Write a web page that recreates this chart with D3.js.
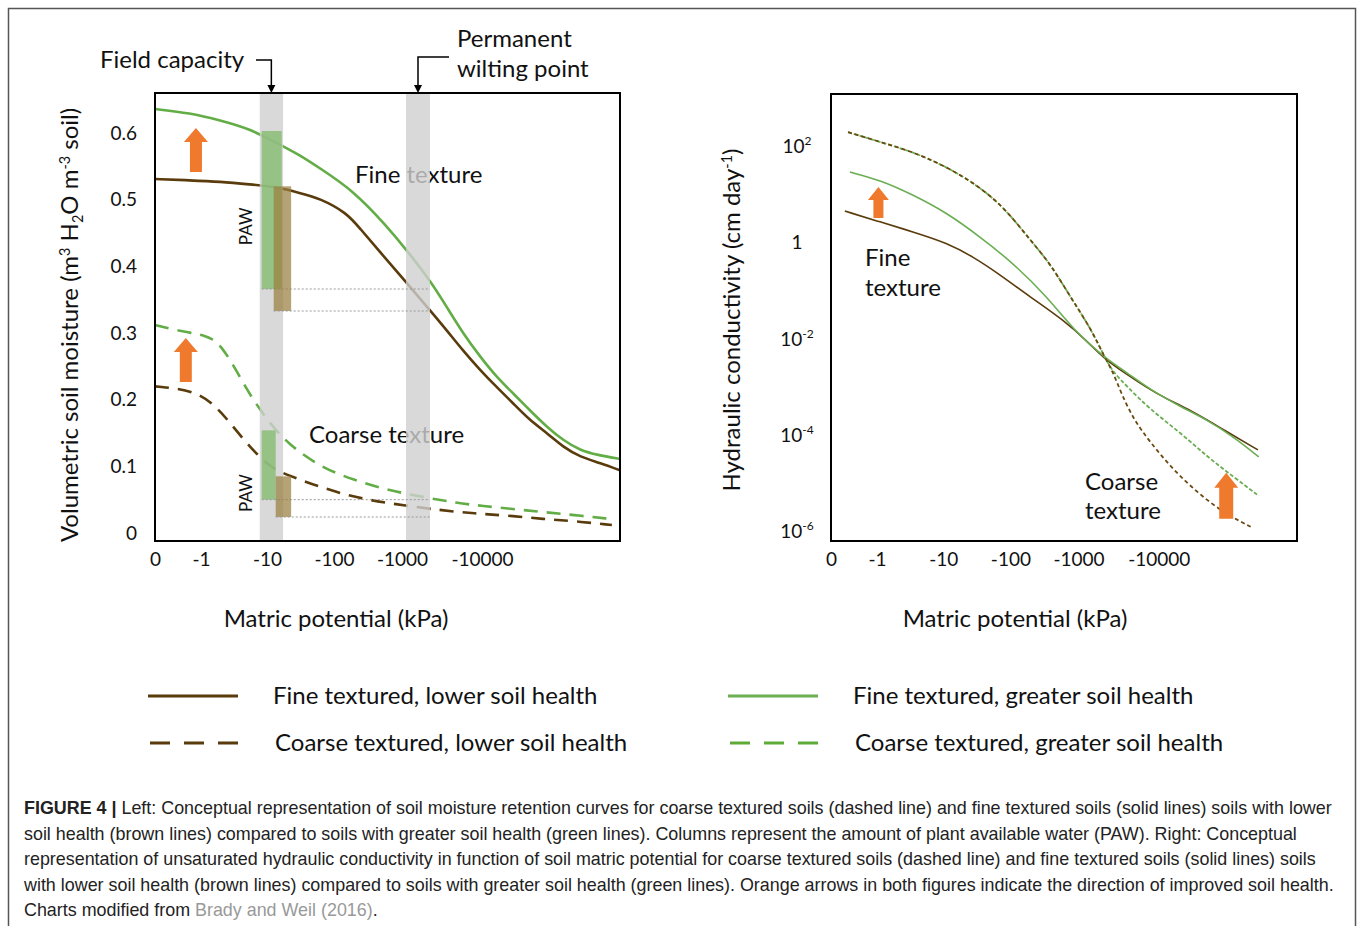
<!DOCTYPE html>
<html>
<head>
<meta charset="utf-8">
<script src="https://cdn.jsdelivr.net/npm/d3@7"></script>
<style>
  body { margin: 0; background: #fff; }
  text { font-family: Lato, "Open Sans", sans-serif; fill: #111; }
  .caption text { font-family: "Liberation Sans", Arial, sans-serif; fill: #222; }
</style>
</head>
<body>
<div id="chart"></div>
<script>
// x is read in tick steps: 0 = "0", 1 = "-1", 2 = "-10", 3 = "-100", 4 = "-1000", 5 = "-10000"
const xTickLabels = ["0", "-1", "-10", "-100", "-1000", "-10000"];
const moistTicks = [0, 0.1, 0.2, 0.3, 0.4, 0.5, 0.6];
const condTickExp = [2, 0, -2, -4, -6];

// left panel: volumetric soil moisture  [step, m3/m3]
const fineLowMoist = [[0, 0.531], [0.76, 0.529], [1.29, 0.527], [1.74, 0.523], [2.15, 0.519], [2.49, 0.51],
  [2.79, 0.502], [3.19, 0.48], [3.38, 0.457], [3.68, 0.421], [4.06, 0.375], [4.35, 0.334], [4.56, 0.304],
  [4.76, 0.274], [4.98, 0.244], [5.18, 0.219], [5.38, 0.195], [5.59, 0.169], [5.8, 0.15], [6.0, 0.129],
  [6.21, 0.114], [6.46, 0.105], [6.7, 0.094]];
const fineHighMoist = [[0, 0.636], [0.76, 0.63], [1.29, 0.619], [1.74, 0.606], [2.09, 0.588], [2.49, 0.567],
  [2.79, 0.547], [3.28, 0.514], [3.78, 0.46], [4.06, 0.424], [4.35, 0.379], [4.56, 0.339], [4.76, 0.3],
  [4.98, 0.264], [5.18, 0.234], [5.38, 0.21], [5.59, 0.184], [5.8, 0.159], [6.0, 0.139], [6.21, 0.124],
  [6.42, 0.117], [6.7, 0.111]];
const coarseLowMoist = [[0, 0.22], [0.87, 0.214], [1.24, 0.189], [1.44, 0.165], [1.74, 0.129], [2.04, 0.099],
  [2.3, 0.087], [2.79, 0.069], [3.28, 0.054], [3.78, 0.045], [4.26, 0.0375], [4.69, 0.0315], [5.01, 0.0285],
  [5.38, 0.0255], [5.75, 0.021], [6.12, 0.018], [6.6, 0.012]];
const coarseHighMoist = [[0, 0.312], [0.67, 0.301], [1.06, 0.297], [1.3, 0.285], [1.64, 0.225], [1.79, 0.2],
  [2.04, 0.165], [2.3, 0.135], [2.79, 0.099], [3.28, 0.08], [3.78, 0.0645], [4.26, 0.054], [4.69, 0.045],
  [5.01, 0.0405], [5.38, 0.036], [5.75, 0.0315], [6.12, 0.027], [6.6, 0.021]];

// plant available water columns  [step from, step to, top, bottom]
const pawFineHigh = [1.92, 2.22, 0.603, 0.366];
const pawFineLow = [2.1, 2.36, 0.52, 0.333];
const pawCoarseHigh = [1.92, 2.13, 0.154, 0.05];
const pawCoarseLow = [2.13, 2.36, 0.085, 0.024];
const fieldCapacityBand = [1.89, 2.24];
const wiltingBand = [4.05, 4.35];

// right panel: hydraulic conductivity  [step, log10 cm/day]
const coarseShared = [[0.37, 2.29], [1.05, 2.083], [1.55, 1.876], [2.06, 1.565], [2.55, 1.15], [2.94, 0.674],
  [3.29, 0.052], [3.59, -0.446], [3.88, -1.13], [4.15, -1.772], [4.33, -2.394], [4.43, -2.684]];
const coarseLowCond = coarseShared.concat([[4.53, -3.119], [4.69, -3.679], [4.9, -4.155], [5.18, -4.715],
  [5.48, -5.192], [5.8, -5.606], [6.13, -5.896]]);
const coarseHighCond = coarseShared.concat([[4.61, -2.995], [4.9, -3.472], [5.27, -3.948], [5.6, -4.446],
  [5.92, -4.86], [6.23, -5.254]]);
const fineHighCond = [[0.41, 1.461], [1.05, 1.295], [1.55, 0.984], [2.06, 0.611], [2.55, 0.114], [3.04, -0.425],
  [3.54, -1.13], [3.93, -1.813], [4.31, -2.373], [4.61, -2.705], [4.9, -3.057], [5.27, -3.409], [5.6, -3.679],
  [5.92, -4.031], [6.23, -4.446]];
const fineLowCond = [[0.3, 0.653], [1.05, 0.425], [1.55, 0.218], [2.06, -0.01], [2.45, -0.301], [2.81, -0.632],
  [3.29, -1.13], [3.78, -1.606], [4.13, -2.083], [4.31, -2.394], [4.61, -2.746], [4.99, -3.161], [5.39, -3.472],
  [5.8, -3.886], [6.22, -4.301]];

// orange arrows  [step, from, to]
const arrowFineMoist = [0.89, 0.5415, 0.6075];
const arrowCoarseMoist = [0.67, 0.2265, 0.2925];
const arrowFineCond = [1.02, 0.508, 1.15];
const arrowCoarseCond = [5.83, -5.731, -4.777];

const legendLabels = ["Fine textured, lower soil health", "Fine textured, greater soil health",
  "Coarse textured, lower soil health", "Coarse textured, greater soil health"];

const captionLines = [
  "Left: Conceptual representation of soil moisture retention curves for coarse textured soils (dashed line) and fine textured soils (solid lines) soils with lower",
  "soil health (brown lines) compared to soils with greater soil health (green lines). Columns represent the amount of plant available water (PAW). Right: Conceptual",
  "representation of unsaturated hydraulic conductivity in function of soil matric potential for coarse textured soils (dashed line) and fine textured soils (solid lines) soils",
  "with lower soil health (brown lines) compared to soils with greater soil health (green lines). Orange arrows in both figures indicate the direction of improved soil health.",
  "Charts modified from "
];

const brown = "#5a3b0c", green = "#62ad45", orange = "#ef7a2e";

const svg = d3.select("#chart").append("svg").attr("width", 1358).attr("height", 926);

svg.append("rect").attr("x", 8.5).attr("y", 8.5).attr("width", 1347).attr("height", 940)
  .attr("fill", "none").attr("stroke", "#555").attr("stroke-width", 1.5);

// uneven tick spacing of the original, same on both panels
const stepKnots = [0, 1, 2, 3, 4, 5, 6.7];
const knotFrac = [0, 46, 112, 179, 247, 327, 465].map(v => v / 465);
function stepScale(x0, w) {
  return d3.scaleLinear().domain(stepKnots).range(knotFrac.map(f => x0 + f * w));
}

function richText(sel, parts, shift) {
  parts.forEach(p => {
    const t = sel.append("tspan").text(p.t);
    if (p.sup) t.attr("dy", -shift).attr("font-size", "0.6em");
    if (p.sub) t.attr("dy", shift * 0.6).attr("font-size", "0.6em");
    if (p.back) t.attr("dy", p.back);
  });
}

function arrow(g, x, yFrom, yTo, shaft, head, headLen) {
  const pts = [[x - shaft, yFrom], [x - shaft, yTo + headLen], [x - head, yTo + headLen], [x, yTo],
    [x + head, yTo + headLen], [x + shaft, yTo + headLen], [x + shaft, yFrom]];
  g.append("polygon").attr("points", pts.map(p => p.join(",")).join(" ")).attr("fill", orange);
}

// ---------- left panel ----------
const L = { x: 155, y: 93, w: 465, h: 448 };
const xL = stepScale(L.x, L.w);
const yL = d3.scaleLinear().domain([-0.012, 0.66]).range([L.y + L.h, L.y]);

const lineL = d3.line().x(d => xL(d[0])).y(d => yL(d[1])).curve(d3.curveBasis);

const left = svg.append("g");

[[fineLowMoist, brown, null], [fineHighMoist, green, null], [coarseLowMoist, brown, "14,9"], [coarseHighMoist, green, "14,9"]]
  .forEach(([data, color, dash]) => {
    left.append("path").datum(data).attr("d", lineL).attr("fill", "none")
      .attr("stroke", color).attr("stroke-width", 2.6).attr("stroke-dasharray", dash);
  });

left.append("text").attr("x", 355).attr("y", yL(0.525)).attr("font-size", 24).text("Fine texture");
left.append("text").attr("x", 309).attr("y", yL(0.135)).attr("font-size", 24).text("Coarse texture");

[fieldCapacityBand, wiltingBand].forEach(b => {
  left.append("rect").attr("x", xL(b[0])).attr("y", L.y).attr("width", xL(b[1]) - xL(b[0])).attr("height", L.h)
    .attr("fill", "#cfcfcf").attr("opacity", 0.8);
});

[[pawFineHigh, "#7cb965"], [pawFineLow, "#9a8040"], [pawCoarseHigh, "#7cb965"], [pawCoarseLow, "#9a8040"]]
  .forEach(([p, c]) => {
    left.append("rect").attr("x", xL(p[0])).attr("y", yL(p[2])).attr("width", xL(p[1]) - xL(p[0]))
      .attr("height", yL(p[3]) - yL(p[2])).attr("fill", c).attr("opacity", 0.72);
    left.append("line").attr("x1", xL(p[0])).attr("x2", xL(wiltingBand[1])).attr("y1", yL(p[3])).attr("y2", yL(p[3]))
      .attr("stroke", "#999").attr("stroke-width", 1).attr("stroke-dasharray", "2,2");
  });

left.append("text").attr("transform", `translate(${xL(1.7) + 5},${yL(0.46)}) rotate(-90)`)
  .attr("text-anchor", "middle").attr("font-size", 17).text("PAW");
left.append("text").attr("transform", `translate(${xL(1.7) + 5},${yL(0.06)}) rotate(-90)`)
  .attr("text-anchor", "middle").attr("font-size", 17).text("PAW");

arrow(left, xL(arrowFineMoist[0]), yL(arrowFineMoist[1]), yL(arrowFineMoist[2]), 6, 12, 14);
arrow(left, xL(arrowCoarseMoist[0]), yL(arrowCoarseMoist[1]), yL(arrowCoarseMoist[2]), 6, 12, 14);

left.append("rect").attr("x", L.x).attr("y", L.y).attr("width", L.w).attr("height", L.h)
  .attr("fill", "none").attr("stroke", "#000").attr("stroke-width", 2);

left.append("g").attr("transform", `translate(0,${L.y + L.h})`)
  .call(d3.axisBottom(xL).tickValues(d3.range(6)).tickFormat(i => xTickLabels[i]).tickSize(0).tickPadding(12))
  .attr("font-size", 19).call(g => g.select(".domain").remove());

left.append("g").attr("transform", `translate(${L.x},0)`)
  .call(d3.axisLeft(yL).tickValues(moistTicks).tickFormat(d => d === 0 ? "0" : d3.format(".1f")(d)).tickSize(0).tickPadding(18))
  .attr("font-size", 19).call(g => g.select(".domain").remove());

left.append("text").attr("x", L.x + 181).attr("y", 627).attr("text-anchor", "middle").attr("font-size", 24)
  .text("Matric potential (kPa)");

richText(left.append("text").attr("transform", `translate(78,${L.y + 232}) rotate(-90)`)
  .attr("text-anchor", "middle").attr("font-size", 24),
  [{ t: "Volumetric soil moisture (m" }, { t: "3", sup: true }, { t: " H", back: 8 }, { t: "2", sub: true },
   { t: "O m", back: -5 }, { t: "-3", sup: true }, { t: " soil)", back: 8 }], 8);

// field capacity / wilting point call-outs
const fcX = xL(d3.mean(fieldCapacityBand)), pwpX = xL(d3.mean(wiltingBand));
left.append("text").attr("x", 100).attr("y", 68).attr("font-size", 24).text("Field capacity");
left.append("text").attr("x", 457).attr("y", 47).attr("font-size", 24).text("Permanent");
left.append("text").attr("x", 457).attr("y", 77).attr("font-size", 24).text("wilting point");
left.append("path").attr("d", `M256,60H${fcX}V${L.y - 6}`).attr("fill", "none").attr("stroke", "#000").attr("stroke-width", 1.5);
left.append("path").attr("d", `M449,57H${pwpX}V${L.y - 6}`).attr("fill", "none").attr("stroke", "#000").attr("stroke-width", 1.5);
[fcX, pwpX].forEach(x => left.append("path").attr("d", `M${x - 4},${L.y - 8}L${x + 4},${L.y - 8}L${x},${L.y}Z`).attr("fill", "#000"));

// ---------- right panel ----------
const R = { x: 831, y: 94, w: 466, h: 447 };
const xR = stepScale(R.x, R.w);
const yR = d3.scaleLog().domain([10 ** -6.19, 10 ** 3.08]).range([R.y + R.h, R.y]);
const lineR = d3.line().x(d => xR(d[0])).y(d => yR(10 ** d[1])).curve(d3.curveBasis);

const right = svg.append("g");

[[fineLowCond, brown, null, 1.6], [fineHighCond, "#6aae52", null, 1.6],
 [coarseHighCond, "#6aae52", "4,2", 1.8], [coarseLowCond, "#6b4a12", "4,3", 1.8]]
  .forEach(([data, color, dash, sw]) => {
    right.append("path").datum(data).attr("d", lineR).attr("fill", "none")
      .attr("stroke", color).attr("stroke-width", sw).attr("stroke-dasharray", dash);
  });

arrow(right, xR(arrowFineCond[0]), yR(10 ** arrowFineCond[1]), yR(10 ** arrowFineCond[2]), 5, 10.5, 13);
arrow(right, xR(arrowCoarseCond[0]), yR(10 ** arrowCoarseCond[1]), yR(10 ** arrowCoarseCond[2]), 7, 12, 15);

right.append("text").attr("x", 865).attr("y", 266).attr("font-size", 24).text("Fine");
right.append("text").attr("x", 865).attr("y", 296).attr("font-size", 24).text("texture");
right.append("text").attr("x", 1085).attr("y", 490).attr("font-size", 24).text("Coarse");
right.append("text").attr("x", 1085).attr("y", 519).attr("font-size", 24).text("texture");

right.append("rect").attr("x", R.x).attr("y", R.y).attr("width", R.w).attr("height", R.h)
  .attr("fill", "none").attr("stroke", "#000").attr("stroke-width", 2);

right.append("g").attr("transform", `translate(0,${R.y + R.h})`)
  .call(d3.axisBottom(xR).tickValues(d3.range(6)).tickFormat(i => xTickLabels[i]).tickSize(0).tickPadding(12))
  .attr("font-size", 19).call(g => g.select(".domain").remove());

right.append("g").attr("transform", `translate(${R.x},0)`)
  .call(d3.axisLeft(yR).tickValues(condTickExp.map(e => 10 ** e)).tickSize(0))
  .attr("font-size", 19).call(g => g.select(".domain").remove())
  .selectAll(".tick text").attr("x", -34).attr("text-anchor", "middle")
  .each(function (d, i) {
    const t = d3.select(this).text(null);
    const e = condTickExp[i];
    if (e === 0) { t.text("1"); return; }
    t.append("tspan").text("10");
    t.append("tspan").attr("dy", -8).attr("font-size", 12).text(e);
  });

right.append("text").attr("x", R.x + 184).attr("y", 627).attr("text-anchor", "middle").attr("font-size", 24)
  .text("Matric potential (kPa)");

richText(right.append("text").attr("transform", `translate(740,${R.y + 226}) rotate(-90)`)
  .attr("text-anchor", "middle").attr("font-size", 24),
  [{ t: "Hydraulic conductivity (cm day" }, { t: "-1", sup: true }, { t: ")", back: 8 }], 8);

// ---------- legend ----------
const legend = svg.append("g");
const legendStyle = [[brown, null], ["#6aae52", null], [brown, "20,14"], ["#5eab3a", "20,14"]];
legendLabels.forEach((label, i) => {
  const col = i % 2, row = Math.floor(i / 2);
  const x = 148 + col * 580 + row * 2, y = 696 + row * 47;
  legend.append("line").attr("x1", x).attr("x2", x + 90).attr("y1", y).attr("y2", y)
    .attr("stroke", legendStyle[i][0]).attr("stroke-width", 3.2).attr("stroke-dasharray", legendStyle[i][1]);
  legend.append("text").attr("x", x + 125).attr("y", y + 8).attr("font-size", 24).text(label);
});

// ---------- caption ----------
const cap = svg.append("g").attr("class", "caption").attr("font-size", 17.9);
captionLines.forEach((line, i) => {
  const t = cap.append("text").attr("x", 24).attr("y", 814 + i * 25.5);
  if (i === 0) t.append("tspan").attr("font-weight", "bold").text("FIGURE 4 | ");
  t.append("tspan").text(line);
  if (i === captionLines.length - 1) {
    t.append("tspan").style("fill", "#999").text("Brady and Weil (2016)");
    t.append("tspan").text(".");
  }
});
</script>
</body>
</html>
